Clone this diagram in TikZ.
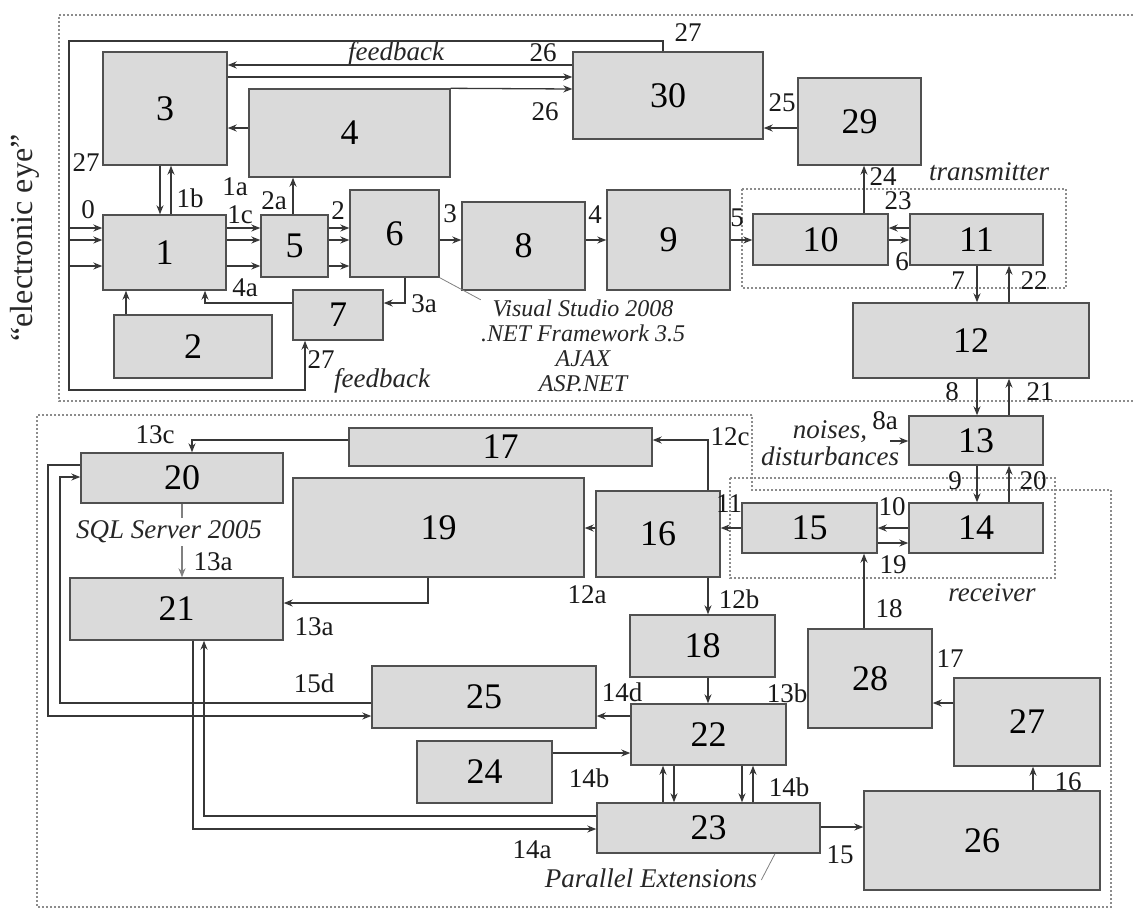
\documentclass[tikz,border=0pt]{standalone}
\usepackage{fontspec}
\setmainfont{Liberation Serif}
\usetikzlibrary{arrows.meta}
\definecolor{boxfill}{RGB}{218,218,218}
\definecolor{boxline}{RGB}{80,80,80}
\definecolor{wirecol}{RGB}{55,55,55}
\definecolor{framecol}{RGB}{140,140,140}
\tikzset{
 box/.style={draw=boxline, fill=boxfill, line width=1.4pt, inner sep=0pt, font=\fontsize{36}{40}\selectfont},
 wire/.style={draw=wirecol, line width=1.3pt},
 arr/.style={wire, -{Stealth[length=9pt,width=7pt]}},
 lab/.style={inner sep=0pt, text=black!90, font=\fontsize{27}{30}\selectfont},
 itl/.style={inner sep=0pt, text=black!85, font=\fontsize{27}{27}\selectfont\itshape},
 frm/.style={draw=framecol, line width=1.1pt, dash pattern=on 2pt off 2pt},
 lead/.style={draw=gray, line width=0.8pt},
}
\begin{document}
\begin{tikzpicture}[x=1pt,y=-1pt]
\useasboundingbox (0,0) rectangle (1133,911);
% frames
\draw[frm] (1133,15) -- (59,15) -- (59,401) -- (1133,401);
\draw[frm] (752,415) -- (37,415) -- (37,907) -- (1111,907) -- (1111,490) -- (752,490) -- cycle;
\draw[frm] (742,189) rectangle (1066,288);
\draw[frm] (730,478) rectangle (1055,578);
% boxes
\node[box,minimum width=123pt,minimum height=75pt] (b1) at (164.5,252.5) {1};
\node[box,minimum width=158pt,minimum height=63pt] (b2) at (193,346.5) {2};
\node[box,minimum width=124pt,minimum height=113pt] (b3) at (165,108.5) {3};
\node[box,minimum width=201pt,minimum height=88pt] (b4) at (349.5,133) {4};
\node[box,minimum width=67pt,minimum height=62pt] (b5) at (294.5,246) {5};
\node[box,minimum width=89pt,minimum height=87pt] (b6) at (394.5,233.5) {6};
\node[box,minimum width=90pt,minimum height=50pt] (b7) at (338,315) {7};
\node[box,minimum width=123pt,minimum height=88pt] (b8) at (523.5,246) {8};
\node[box,minimum width=123pt,minimum height=100pt] (b9) at (668.5,240) {9};
\node[box,minimum width=135pt,minimum height=51pt] (b10) at (820.5,239.5) {10};
\node[box,minimum width=133pt,minimum height=51pt] (b11) at (976.5,239.5) {11};
\node[box,minimum width=236pt,minimum height=75pt] (b12) at (971,340.5) {12};
\node[box,minimum width=134pt,minimum height=49pt] (b13) at (976,440.5) {13};
\node[box,minimum width=134pt,minimum height=50pt] (b14) at (976,528) {14};
\node[box,minimum width=135pt,minimum height=50pt] (b15) at (809.5,528) {15};
\node[box,minimum width=124pt,minimum height=86pt] (b16) at (658,534) {16};
\node[box,minimum width=303pt,minimum height=38pt] (b17) at (500.5,447) {17};
\node[box,minimum width=145pt,minimum height=62pt] (b18) at (702.5,646) {18};
\node[box,minimum width=291pt,minimum height=99pt] (b19) at (438.5,527.5) {19};
\node[box,minimum width=202pt,minimum height=50pt] (b20) at (182,478) {20};
\node[box,minimum width=213pt,minimum height=62pt] (b21) at (176.5,609) {21};
\node[box,minimum width=155pt,minimum height=61pt] (b22) at (708.5,734.5) {22};
\node[box,minimum width=223pt,minimum height=50pt] (b23) at (708.5,828) {23};
\node[box,minimum width=135pt,minimum height=62pt] (b24) at (484.5,772) {24};
\node[box,minimum width=224pt,minimum height=62pt] (b25) at (484,697) {25};
\node[box,minimum width=236pt,minimum height=99pt] (b26) at (982,840.5) {26};
\node[box,minimum width=146pt,minimum height=88pt] (b27) at (1027,722) {27};
\node[box,minimum width=124pt,minimum height=99pt] (b28) at (870,678.5) {28};
\node[box,minimum width=123pt,minimum height=87pt] (b29) at (859.5,121.5) {29};
\node[box,minimum width=190pt,minimum height=87pt] (b30) at (668,95.5) {30};
% text annotations
\node[inner sep=0pt, rotate=90, text=black!85, font=\fontsize{32}{36}\selectfont] (ee) at (25,238) {“electronic eye”};
\node[itl] (fbtop) at (396,54) {feedback};
\node[itl] (fbbot) at (382,381) {feedback};
\node[itl, align=center, font=\fontsize{24}{25}\selectfont\itshape] (vs) at (583,346) {Visual Studio 2008\\.NET Framework 3.5\\AJAX\\ASP.NET};
\node[itl] (tx) at (989,172) {transmitter};
\node[itl] (rx) at (992,593) {receiver};
\node[itl, align=center] (nz) at (830,443) {noises,\\disturbances};
\node[itl, inner sep=3pt] (sql) at (169,532) {SQL Server 2005};
\node[itl] (pe) at (651,878) {Parallel Extensions};
\coordinate (nzin) at (890,441);
% leaders
\draw[lead] (b6.south east) -- (vs.north west);
\draw[lead] (b23.south -| 775,0) -- ([xshift=4pt,yshift=-2pt]pe.east);
% top wires
\draw[arr] (b30.north -| 663,0) -- (663,41) -- (69,41) -- (69,390) -- (305,390) -- (b7.south -| 305,0);
\draw[arr] (b30.west |- 0,65) -- (b3.east |- 0,65);
\draw[arr] (b3.east |- 0,77) -- (b30.west |- 0,77);
\draw[arr] (b4.north east) -- (b30.west |- 0,89);
\draw[arr] (b4.west |- 0,128) -- (b3.east |- 0,128);
\draw[arr] (b3.south -| 160,0) -- (b1.north -| 160,0);
\draw[arr] (b1.north -| 171,0) -- (b3.south -| 171,0);
\foreach \yy in {228,240,266}{
  \draw[arr] (69,\yy) -- (b1.west |- 0,\yy);
  \draw[arr] (b1.east |- 0,\yy) -- (b5.west |- 0,\yy);
  \draw[arr] (b5.east |- 0,\yy) -- (b6.west |- 0,\yy);
}
\draw[arr] (b5.north -| 293,0) -- (b4.south -| 293,0);
\draw[arr] (b2.north -| 126,0) -- (b1.south -| 126,0);
\draw[arr] (b7.west |- 0,303) -- (205,303) -- (b1.south -| 205,0);
\draw[arr] (b6.south -| 405,0) -- (405,303) -- (b7.east |- 0,303);
\draw[arr] (b6.east |- 0,240) -- (b8.west |- 0,240);
\draw[arr] (b8.east |- 0,240) -- (b9.west |- 0,240);
\draw[arr] (b9.east |- 0,240) -- (b10.west |- 0,240);
\draw[arr] (b10.east |- 0,240) -- (b11.west |- 0,240);
\draw[arr] (b11.west |- 0,228) -- (b10.east |- 0,228);
\draw[arr] (b10.north -| 864,0) -- (b29.south -| 864,0);
\draw[arr] (b29.west |- 0,128) -- (b30.east |- 0,128);
\draw[arr] (b11.south -| 977,0) -- (b12.north -| 977,0);
\draw[arr] (b12.north -| 1009,0) -- (b11.south -| 1009,0);
\draw[arr] (b12.south -| 977,0) -- (b13.north -| 977,0);
\draw[arr] (b13.north -| 1009,0) -- (b12.south -| 1009,0);
% bottom wires
\draw[arr] (nzin) -- (b13.west |- nzin);
\draw[arr] (b13.south -| 977,0) -- (b14.north -| 977,0);
\draw[arr] (b14.north -| 1009,0) -- (b13.south -| 1009,0);
\draw[arr] (b14.west |- 0,528) -- (b15.east |- 0,528);
\draw[arr] (b15.east |- 0,543) -- (b14.west |- 0,543);
\draw[arr] (b28.north -| 864,0) -- (b15.south -| 864,0);
\draw[arr] (b15.west |- 0,528) -- (b16.east |- 0,528);
\draw[arr] (b16.north -| 708,0) -- (708,440) -- (b17.east |- 0,440);
\draw[arr] (b16.west |- 0,528) -- (b19.east |- 0,528);
\draw[arr] (b16.south -| 708,0) -- (b18.north -| 708,0);
\draw[arr] (b17.west |- 0,440) -- (192,440) -- (b20.north -| 192,0);
\draw[wire, draw=gray] (b20.south -| 182,0) -- (sql.north -| 182,0);
\draw[arr, draw=gray] (sql.south -| 182,0) -- (b21.north -| 182,0);
\draw[arr] (b19.south -| 428,0) -- (428,603) -- (b21.east |- 0,603);
\draw[arr] (b20.west |- 0,465) -- (48,465) -- (48,716) -- (b25.west |- 0,716);
\draw[arr] (b25.west |- 0,703) -- (60,703) -- (60,477) -- (b20.west |- 0,477);
\draw[arr] (b21.south -| 193,0) -- (193,829) -- (b23.west |- 0,829);
\draw[arr] (b23.west |- 0,816) -- (204,816) -- (b21.south -| 204,0);
\draw[arr] (b18.south -| 708,0) -- (b22.north -| 708,0);
\draw[arr] (b22.west |- 0,716) -- (b25.east |- 0,716);
\draw[arr] (b24.east |- 0,753) -- (b22.west |- 0,753);
\draw[arr] (b23.north -| 663,0) -- (b22.south -| 663,0);
\draw[arr] (b22.south -| 674,0) -- (b23.north -| 674,0);
\draw[arr] (b22.south -| 742,0) -- (b23.north -| 742,0);
\draw[arr] (b23.north -| 753,0) -- (b22.south -| 753,0);
\draw[arr] (b23.east |- 0,827) -- (b26.west |- 0,827);
\draw[arr] (b26.north -| 1033,0) -- (b27.south -| 1033,0);
\draw[arr] (b27.west |- 0,703) -- (b28.east |- 0,703);
% labels
\node[lab] at (86,163) {27};
\node[lab] at (88,210) {0};
\node[lab] at (190,198) {1b};
\node[lab] at (235,187) {1a};
\node[lab] at (240,215) {1c};
\node[lab] at (274,201) {2a};
\node[lab] at (338,211) {2};
\node[lab] at (245,288) {4a};
\node[lab] at (450,214) {3};
\node[lab] at (424,304) {3a};
\node[lab] at (595,215) {4};
\node[lab] at (737,218) {5};
\node[lab] at (321,360) {27};
\node[lab] at (543,53) {26};
\node[lab] at (545,112) {26};
\node[lab] at (688,33) {27};
\node[lab] at (782,103) {25};
\node[lab] at (883,177) {24};
\node[lab] at (898,201) {23};
\node[lab] at (902,262) {6};
\node[lab] at (958,281) {7};
\node[lab] at (1034,281) {22};
\node[lab] at (952,392) {8};
\node[lab] at (1040,392) {21};
\node[lab] at (885,421) {8a};
\node[lab] at (955,481) {9};
\node[lab] at (1033,481) {20};
\node[lab] at (892,507) {10};
\node[lab] at (893,565) {19};
\node[lab] at (889,609) {18};
\node[lab] at (729,504) {11};
\node[lab] at (730,437) {12c};
\node[lab] at (587,595) {12a};
\node[lab] at (739,599) {12b};
\node[lab] at (155,435) {13c};
\node[lab] at (213,562) {13a};
\node[lab] at (314,627) {13a};
\node[lab] at (314,683) {15d};
\node[lab] at (622,692) {14d};
\node[lab] at (787,693) {13b};
\node[lab] at (589,778) {14b};
\node[lab] at (789,787) {14b};
\node[lab] at (532,850) {14a};
\node[lab] at (840,855) {15};
\node[lab] at (1068,782) {16};
\node[lab] at (950,659) {17};
\end{tikzpicture}
\end{document}
